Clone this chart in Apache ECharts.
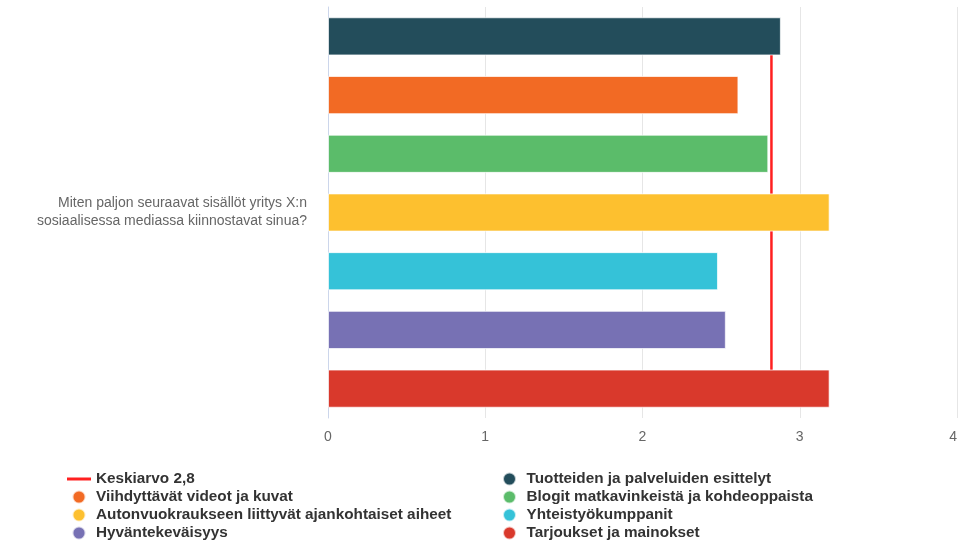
<!DOCTYPE html>
<html>
<head>
<meta charset="utf-8">
<script src="https://cdn.jsdelivr.net/npm/echarts@6/dist/echarts.min.js"></script>
<style>
  html, body { margin: 0; padding: 0; background: #fff; }
  #chart { width: 960px; height: 542px; }
</style>
</head>
<body>
<div id="chart"></div>
<script>
// Survey question shown as the single category
const question = ['Miten paljon seuraavat sisällöt yritys X:n\nsosiaalisessa mediassa kiinnostavat sinua?'];

// One series per content type, top to bottom
const seriesNames = [
  'Tuotteiden ja palveluiden esittelyt',
  'Viihdyttävät videot ja kuvat',
  'Blogit matkavinkeistä ja kohdeoppaista',
  'Autonvuokraukseen liittyvät ajankohtaiset aiheet',
  'Yhteistyökumppanit',
  'Hyväntekeväisyys',
  'Tarjoukset ja mainokset'
];
const seriesValues = [2.88, 2.61, 2.80, 3.19, 2.48, 2.53, 3.19];
const seriesColors = ['#234d5b', '#f26a24', '#5bbc6a', '#fdc02f', '#35c2d8', '#7771b4', '#d9392c'];

// Overall average drawn as a vertical line
const averageValue = 2.82;
const averageName = 'Keskiarvo ' + averageValue.toFixed(1).replace('.', ',');

const xTicks = { min: 0, max: 4, interval: 1 };

const FONT = 'Liberation Sans, Arial, sans-serif';

const barSeries = seriesNames.map((name, i) => ({
  name: name,
  type: 'bar',
  yAxisIndex: 1,
  barGap: '-100%',
  barCategoryGap: '35%',
  z: 3,
  itemStyle: { color: seriesColors[i], borderColor: 'rgba(255,255,255,0.7)', borderWidth: 1 },
  emphasis: { disabled: true },
  data: seriesNames.map((_, j) => (j === i ? seriesValues[i] : '-'))
}));

const averageSeries = {
  name: averageName,
  type: 'line',
  yAxisIndex: 1,
  z: 1,
  symbol: 'none',
  silent: true,
  lineStyle: { color: '#ff2020', width: 2.5 },
  itemStyle: { color: '#ff2020' },
  data: seriesNames.map(() => averageValue)
};

const legendCommon = {
  orient: 'vertical',
  top: 470,
  padding: 0,
  itemWidth: 24,
  itemHeight: 13,
  itemGap: 0,
  textStyle: { fontFamily: FONT, fontSize: 15.3, fontWeight: 'bold', color: '#333', lineHeight: 18 }
};

const lineIcon = 'path://M0,0L24,0L24,3L0,3Z';

const chart = echarts.init(document.getElementById('chart'));
chart.setOption({
  animation: false,
  backgroundColor: '#ffffff',
  grid: { left: 328, right: 2, top: 7, bottom: 124, containLabel: false },
  xAxis: {
    type: 'value',
    min: xTicks.min,
    max: xTicks.max,
    interval: xTicks.interval,
    axisLine: { show: false },
    axisTick: { show: false },
    splitLine: { lineStyle: { color: '#e6e6e6', width: 1 } },
    axisLabel: { color: '#666', fontFamily: FONT, fontSize: 14, margin: 12, alignMaxLabel: 'right' }
  },
  yAxis: [
    {
      type: 'category',
      data: question,
      axisLine: { show: true, lineStyle: { color: '#ccd6eb', width: 1 } },
      axisTick: { show: false },
      axisLabel: { color: '#666', fontFamily: FONT, fontSize: 14, lineHeight: 18, margin: 21, align: 'right' }
    },
    {
      type: 'category',
      inverse: true,
      data: seriesNames,
      show: false
    }
  ],
  legend: [
    Object.assign({}, legendCommon, {
      left: 67,
      data: [
        { name: averageName, icon: lineIcon },
        { name: seriesNames[1], icon: 'circle' },
        { name: seriesNames[3], icon: 'circle' },
        { name: seriesNames[5], icon: 'circle' }
      ]
    }),
    Object.assign({}, legendCommon, {
      left: 502,
      data: [
        { name: seriesNames[0], icon: 'circle' },
        { name: seriesNames[2], icon: 'circle' },
        { name: seriesNames[4], icon: 'circle' },
        { name: seriesNames[6], icon: 'circle' }
      ]
    })
  ],
  series: [averageSeries].concat(barSeries)
});
</script>
</body>
</html>
